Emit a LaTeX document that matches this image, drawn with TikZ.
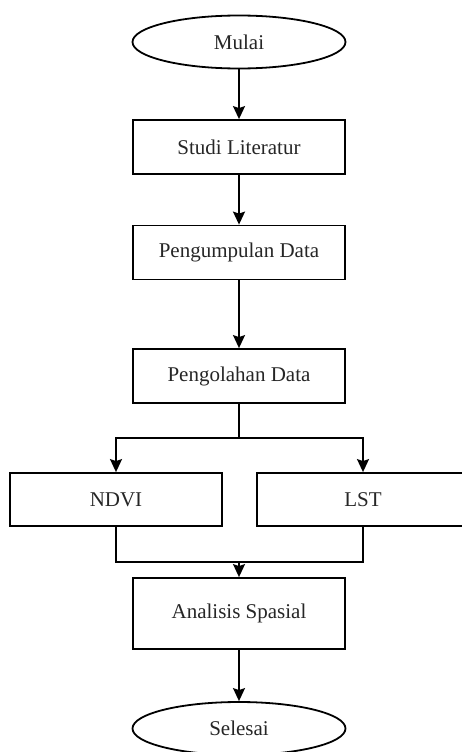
\documentclass[tikz,border=0pt]{standalone}
\usepackage{fontspec}
\setmainfont{Liberation Serif}
\usetikzlibrary{shapes.geometric,arrows.meta}
\begin{document}
\begin{tikzpicture}[x=1pt,y=-1pt,
  every node/.style={font=\fontsize{21}{24}\selectfont, text=black!85},
  stepbox/.style={draw, line width=1.8pt, minimum width=212pt, minimum height=54pt, inner sep=0pt},
  term/.style={draw, ellipse, line width=1.8pt, minimum width=213pt, minimum height=53pt, inner sep=0pt},
  conn/.style={line width=1.8pt},
  arr/.style={conn, -{Stealth[length=13pt,width=12pt,inset=2pt]}}]
\useasboundingbox (0,0) rectangle (462,752);
\node[term] (mulai) at (239,42) {Mulai};
\node[stepbox] (studi) at (239,147) {Studi Literatur};
\node[stepbox] (kumpul) at (239,252.5) {Pengumpulan Data};
\node[stepbox] (olah) at (239,376) {Pengolahan Data};
\node[stepbox, minimum height=53pt] (ndvi) at (116,499.5) {NDVI};
\node[stepbox, minimum height=53pt] (lst) at (363,499.5) {LST};
\node[stepbox, minimum height=71pt] (analisis) at (239,613.5) {Analisis Spasial};
\node[term] (selesai) at (239,728.5) {Selesai};
\coordinate (split) at (239,438);
\coordinate (merge) at (239,562);
\draw[arr] (mulai) -- (studi);
\draw[arr] (studi) -- (kumpul);
\draw[arr] (kumpul) -- (olah);
\draw[conn] (olah.south) -- (split);
\draw[arr] (split) -| (ndvi.north);
\draw[arr] (split) -| (lst.north);
\draw[conn] (ndvi.south) |- (merge);
\draw[conn] (lst.south) |- (merge);
\draw[arr] (merge) -- (analisis.north);
\draw[arr] (analisis) -- (selesai);
\end{tikzpicture}
\end{document}
